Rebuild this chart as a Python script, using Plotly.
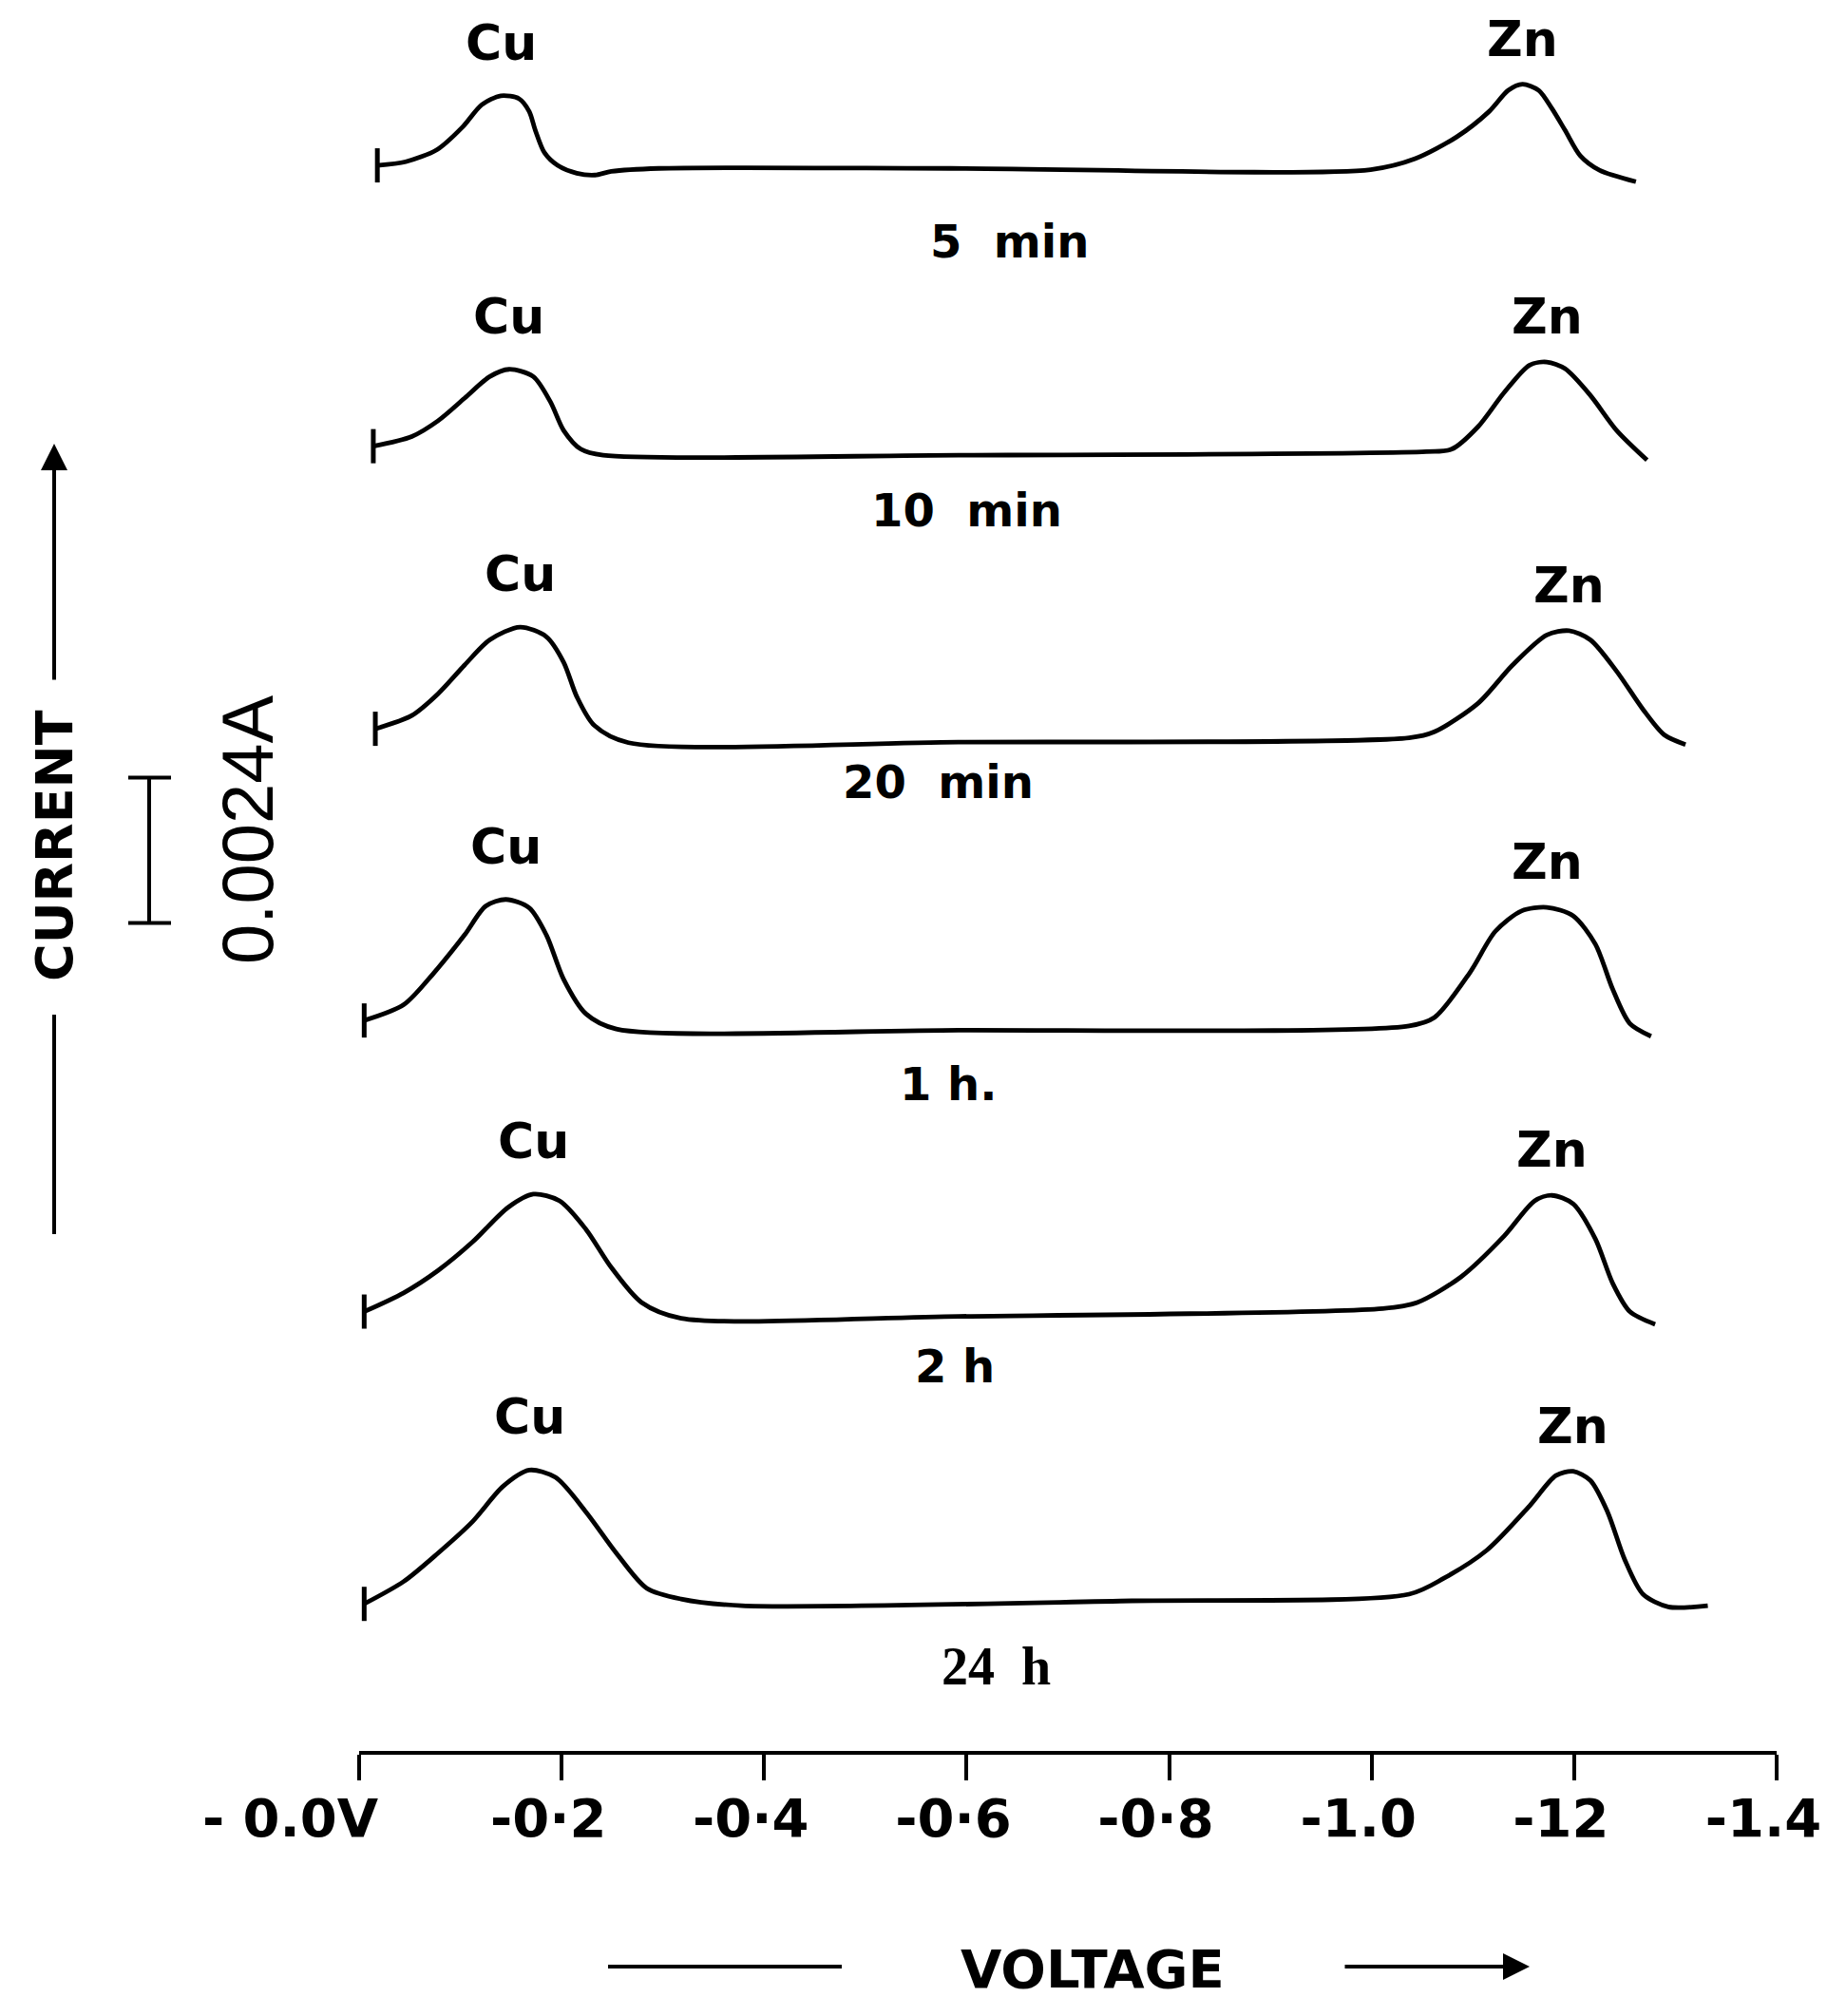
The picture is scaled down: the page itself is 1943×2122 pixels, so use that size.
import plotly.graph_objects as go

# ---------------- data ----------------
# voltage (V) and current above each trace's flat baseline (mA)
TIMES = ["5 min", "10 min", "20 min", "1 h.", "2 h", "24 h"]

V_5MIN = [-0.018, -0.046, -0.077, -0.102, -0.121, -0.140, -0.158, -0.168, -0.174, -0.183,
          -0.196, -0.215, -0.233, -0.249, -0.296, -0.584, -0.999, -1.043, -1.084, -1.116,
          -1.135, -1.149, -1.165, -1.178, -1.191, -1.206, -1.225, -1.261]
I_5MIN = [0.05, 0.11, 0.31, 0.68, 1.05, 1.20, 1.15, 0.94, 0.63, 0.26,
          0.05, -0.08, -0.11, -0.05, 0.0, 0.0, -0.02, 0.16, 0.52, 0.94,
          1.29, 1.39, 1.29, 0.99, 0.63, 0.21, -0.03, -0.22]

V_10MIN = [-0.014, -0.052, -0.078, -0.104, -0.129, -0.148, -0.172, -0.189, -0.202, -0.219,
           -0.241, -0.592, -1.054, -1.079, -1.105, -1.131, -1.156, -1.173, -1.191, -1.216,
           -1.242, -1.272]
I_10MIN = [0.15, 0.31, 0.57, 0.94, 1.30, 1.42, 1.30, 0.88, 0.41, 0.10,
           0.0, 0.0, 0.06, 0.10, 0.47, 1.04, 1.49, 1.54, 1.43, 0.99,
           0.41, -0.08]

V_20MIN = [-0.016, -0.052, -0.078, -0.104, -0.129, -0.159, -0.185, -0.202, -0.215, -0.232,
           -0.266, -0.592, -1.037, -1.062, -1.105, -1.139, -1.173, -1.195, -1.216, -1.242,
           -1.268, -1.289, -1.310]
I_20MIN = [0.22, 0.44, 0.80, 1.27, 1.69, 1.90, 1.74, 1.32, 0.75, 0.28,
           -0.01, 0.0, 0.07, 0.17, 0.64, 1.27, 1.77, 1.84, 1.69, 1.17,
           0.54, 0.12, -0.04]

V_1H = [-0.005, -0.044, -0.074, -0.104, -0.125, -0.145, -0.168, -0.185, -0.202, -0.224,
        -0.254, -0.592, -1.037, -1.062, -1.097, -1.122, -1.148, -1.173, -1.199, -1.221,
        -1.238, -1.255, -1.276]
I_1H = [0.14, 0.40, 0.93, 1.55, 2.03, 2.14, 2.00, 1.55, 0.82, 0.25,
        0.0, -0.02, 0.05, 0.19, 0.93, 1.61, 1.95, 2.01, 1.87, 1.40,
        0.66, 0.09, -0.12]

V_2H = [-0.005, -0.044, -0.078, -0.112, -0.147, -0.172, -0.198, -0.224, -0.249, -0.279,
        -0.318, -0.592, -1.011, -1.045, -1.088, -1.131, -1.161, -1.178, -1.199, -1.221,
        -1.238, -1.255, -1.280]
I_2H = [0.07, 0.38, 0.75, 1.22, 1.79, 2.01, 1.90, 1.43, 0.80, 0.22,
        -0.04, -0.01, 0.12, 0.22, 0.64, 1.32, 1.90, 1.99, 1.85, 1.27,
        0.54, 0.07, -0.14]

V_24H = [-0.005, -0.044, -0.078, -0.112, -0.142, -0.168, -0.194, -0.224, -0.254, -0.284,
         -0.318, -0.378, -0.763, -1.037, -1.071, -1.114, -1.156, -1.182, -1.199, -1.216,
         -1.233, -1.250, -1.268, -1.293, -1.332]
I_24H = [-0.02, 0.35, 0.82, 1.34, 1.92, 2.19, 2.07, 1.50, 0.82, 0.24,
         0.06, -0.05, 0.03, 0.14, 0.40, 0.87, 1.60, 2.10, 2.17, 2.02,
         1.50, 0.71, 0.14, -0.07, -0.05]

TICK_VALS = [0.0, -0.2, -0.4, -0.6, -0.8, -1.0, -1.2, -1.4]
TICK_TEXT = ["- 0.0V", "-0·2", "-0·4", "-0·6", "-0·8", "-1.0", "-12", "-1.4"]
SCALE_BAR_A = 0.0024

CURVES = [(V_5MIN, I_5MIN), (V_10MIN, I_10MIN), (V_20MIN, I_20MIN),
          (V_1H, I_1H), (V_2H, I_2H), (V_24H, I_24H)]

# ---------------- layout constants ----------------
W, H = 1943, 2122
ML, MR, MT = 378, 73, 0
PLOT_BOTTOM = 1843
MB = H - PLOT_BOTTOM
PW = W - ML - MR
PH = PLOT_BOTTOM - MT
PX_PER_MA = 63.7
Y_MAX = PH / PX_PER_MA
BASE_OFFSET = 2.45      # mA, baseline of lowest trace above the axis
STEP = 4.74             # mA between stacked traces
LABEL_X = [-0.642, -0.600, -0.572, -0.582, -0.588, -0.629]
LABEL_DY = [77, 58, 42, 58, 53, 67]


def xp(px):
    return (px - ML) / PW


def yp(py):
    return (PLOT_BOTTOM - py) / PH


BOLD = dict(family="DejaVu Sans", color="black", weight="bold")
NB = "\u00a0"

fig = go.Figure()
shapes = []
annotations = []
n = len(CURVES)
for i, (vs, cs) in enumerate(CURVES):
    off = BASE_OFFSET + (n - 1 - i) * STEP
    ys = [c + off for c in cs]
    fig.add_trace(go.Scatter(
        x=vs, y=ys, mode="lines",
        line=dict(color="black", width=4.8, shape="spline", smoothing=0.8),
        hoverinfo="skip", showlegend=False))
    # start marker (short vertical bar)
    shapes.append(dict(type="line", xref="x", yref="y", ysizemode="pixel",
                       yanchor=ys[0], x0=vs[0], x1=vs[0], y0=-18, y1=18,
                       line=dict(color="black", width=5)))
    # Cu / Zn peak labels
    cu = max((p for p in zip(vs, ys) if p[0] > -0.6), key=lambda p: p[1])
    zn = max((p for p in zip(vs, ys) if p[0] < -0.6), key=lambda p: p[1])
    annotations.append(dict(x=cu[0], y=cu[1], text="Cu", showarrow=False,
                            xanchor="center", yanchor="middle",
                            yshift=56, font=dict(BOLD, size=52)))
    annotations.append(dict(x=zn[0], y=zn[1], text="Zn", showarrow=False,
                            xanchor="center", yanchor="middle",
                            yshift=48, font=dict(BOLD, size=52)))
    # time label
    if i < 5:
        txt = TIMES[i].replace(" ", NB * 2) if "min" in TIMES[i] else TIMES[i]
        fnt = dict(BOLD, size=48)
    else:
        txt = TIMES[i].replace(" ", NB * 2)
        fnt = dict(family="Liberation Serif", size=56, color="black", weight="bold")
    annotations.append(dict(x=LABEL_X[i], y=off, yshift=-LABEL_DY[i], text=txt,
                            showarrow=False, xanchor="center", yanchor="middle",
                            font=fnt))

# scale bar 0.0024 A
bar_bottom = yp(971.5)
bar_top = bar_bottom + SCALE_BAR_A * 1000 / Y_MAX
shapes += [
    dict(type="line", xref="paper", yref="paper", x0=xp(157), x1=xp(157),
         y0=bar_bottom, y1=bar_top, line=dict(color="black", width=4)),
    dict(type="line", xref="paper", yref="paper", x0=xp(135), x1=xp(180),
         y0=bar_bottom, y1=bar_bottom, line=dict(color="black", width=4)),
    dict(type="line", xref="paper", yref="paper", x0=xp(135), x1=xp(180),
         y0=bar_top, y1=bar_top, line=dict(color="black", width=4)),
]
annotations.append(dict(xref="paper", yref="paper", x=xp(260), y=yp(874),
                        xanchor="center", yanchor="middle",
                        text="0.0024A", textangle=-90, showarrow=False,
                        font=dict(family="Liberation Sans", size=76, color="black")))

# CURRENT axis title with arrow
annotations.append(dict(xref="paper", yref="paper", x=xp(57), y=yp(890),
                        xanchor="center", yanchor="middle",
                        text="CURRENT", textangle=-90, showarrow=False,
                        font=dict(BOLD, size=54)))
shapes.append(dict(type="line", xref="paper", yref="paper", x0=xp(57), x1=xp(57),
                   y0=yp(1068), y1=yp(1299), line=dict(color="black", width=4)))
annotations.append(dict(xref="paper", yref="paper", x=xp(57), y=yp(467),
                        text="", showarrow=True, ax=0, ay=250,
                        arrowhead=2, arrowsize=1.4, arrowwidth=4, arrowcolor="black"))

# VOLTAGE axis title with arrow
annotations.append(dict(xref="paper", yref="paper", x=xp(1150), y=yp(2072),
                        xanchor="center", yanchor="middle",
                        text="VOLTAGE", showarrow=False, font=dict(BOLD, size=56)))
shapes.append(dict(type="line", xref="paper", yref="paper", x0=xp(640), x1=xp(886),
                   y0=yp(2070), y1=yp(2070), line=dict(color="black", width=4)))
annotations.append(dict(xref="paper", yref="paper", x=xp(1610), y=yp(2070),
                        text="", showarrow=True, ax=-196, ay=0,
                        arrowhead=2, arrowsize=1.4, arrowwidth=4, arrowcolor="black"))

ticktext = [TICK_TEXT[0] + NB * 6] + TICK_TEXT[1:]

fig.update_layout(
    width=W, height=H,
    margin=dict(l=ML, r=MR, t=MT, b=MB, autoexpand=False),
    paper_bgcolor="white", plot_bgcolor="white",
    showlegend=False,
    shapes=shapes, annotations=annotations,
    xaxis=dict(range=[0, -1.4], tickvals=TICK_VALS, ticktext=ticktext,
               tickangle=0,
               showline=True, linecolor="black", linewidth=4,
               ticks="outside", ticklen=27, tickwidth=4, tickcolor="black",
               showgrid=False, zeroline=False, ticklabelshift=14,
               tickfont=dict(BOLD, size=56)),
    yaxis=dict(range=[0, Y_MAX], visible=False, showgrid=False, zeroline=False),
)
try:
    fig.update_xaxes(ticklabelstandoff=-8)
except Exception:
    pass

fig.write_html("out.html", config={"displayModeBar": False},
               post_script="document.body.style.margin='0';")
